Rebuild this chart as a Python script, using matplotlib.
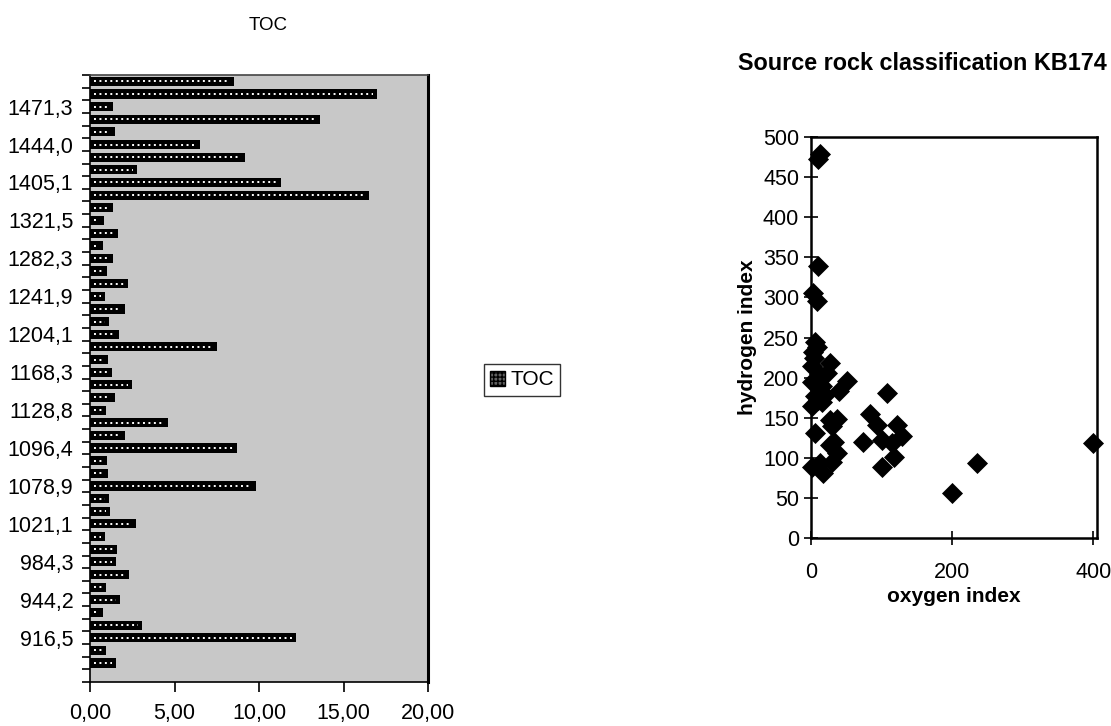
import matplotlib
matplotlib.use("Agg")
import matplotlib.pyplot as plt
import numpy as np
from matplotlib.patches import Patch
from matplotlib.ticker import FixedLocator, NullFormatter

plt.rcParams['font.family'] = ['Liberation Sans', 'DejaVu Sans']

# TOC (wt%) per sample, listed from the shallowest (top bar) to the deepest
toc = [8.5, 17.0, 1.35, 13.6, 1.45, 6.5, 9.2, 2.8, 11.3, 16.5,
       1.35, 0.8, 1.65, 0.75, 1.35, 1.0, 2.25, 0.9, 2.1, 1.15,
       1.7, 7.5, 1.05, 1.3, 2.5, 1.45, 0.95, 4.6, 2.05, 8.7,
       1.0, 1.05, 9.8, 1.15, 1.2, 2.7, 0.9, 1.6, 1.55, 2.3,
       0.95, 1.8, 0.75, 3.1, 12.2, 0.95, 1.55, 0.0]

# depth labels shown on every third category, starting at the third bar
depth_labels = ['1471,3', '1444,0', '1405,1', '1321,5', '1282,3', '1241,9',
                '1204,1', '1168,3', '1128,8', '1096,4', '1078,9', '1021,1',
                '984,3', '944,2', '916,5']
label_start, label_step = 2, 3
toc_ticks = [0, 5, 10, 15, 20]

# Rock-Eval indices for the source rock plot
oxygen_index = [13, 10, 10, 3, 8,
                6, 3, 4, 2, 27, 22, 51, 39, 2, 10, 6, 15, 2, 108,
                27, 37, 6, 84, 93, 122, 74, 100, 115, 129, 117, 100,
                27, 37, 30, 13, 2, 17, 200, 235, 400,
                8, 12, 16, 10, 20, 30, 33]
hydrogen_index = [479, 473, 339, 306, 296,
                  245, 232, 225, 214, 218, 206, 196, 183, 195, 188, 177, 170, 164, 181,
                  147, 148, 131, 154, 141, 141, 120, 122, 119, 127, 101, 89,
                  116, 106, 95, 93, 89, 81, 56, 94, 119,
                  238, 205, 190, 172, 178, 140, 120]

fig = plt.figure(figsize=(11.11, 7.26), dpi=100)

# ---- TOC bar chart ----
ax = fig.add_axes([90 / 1111, 1 - 682 / 726, 338 / 1111, 607 / 726])
ax.set_facecolor('#c8c8c8')
pos = np.arange(len(toc))
ax.barh(pos, toc, height=0.72, color='black', zorder=2)
# row of light dots along each bar
for p, v in zip(pos, toc):
    if v > 0.5:
        ax.hlines(p, 0.25, v - 0.25, colors='white', linestyles=(0, (1, 1.8)),
                  lw=1.4, zorder=3)
ax.set_ylim(len(toc) - 0.5, -0.5)
ax.set_xlim(0, 20)
ax.set_xticks(toc_ticks)
ax.set_xticklabels([f"{t:.2f}".replace('.', ',') for t in toc_ticks], fontsize=15.5)
ax.tick_params(axis='x', direction='out', length=7, width=1.2, pad=8)
ax.yaxis.set_major_locator(FixedLocator(label_start + label_step * np.arange(len(depth_labels))))
ax.set_yticklabels(depth_labels, fontsize=15.5)
ax.yaxis.set_minor_locator(FixedLocator(np.arange(len(toc) + 1) - 0.5))
ax.yaxis.set_minor_formatter(NullFormatter())
ax.tick_params(axis='y', which='major', length=0, pad=12)
ax.tick_params(axis='y', which='minor', direction='out', length=6, width=1.2)
for s in ax.spines.values():
    s.set_color('black')
    s.set_linewidth(1.2)
ax.spines['right'].set_linewidth(2.2)
ax.spines['top'].set_color('#444444')
fig.text(268 / 1111, 1 - 26 / 726, 'TOC', ha='center', va='center', fontsize=13.5)

legend_handle = Patch(facecolor='#606060', edgecolor='black', hatch='++++', label='TOC')
fig.legend(handles=[legend_handle], loc='center', bbox_to_anchor=(522 / 1111, 1 - 380 / 726),
           frameon=True, fancybox=False, edgecolor='black', fontsize=15,
           handlelength=0.75, handleheight=0.75, handletextpad=0.25,
           borderpad=0.3, borderaxespad=0)

# ---- HI vs OI scatter ----
bx = fig.add_axes([811 / 1111, 1 - 538 / 726, 286 / 1111, 401 / 726])
bx.scatter(oxygen_index, hydrogen_index, marker='D', s=115, color='black',
           linewidths=0, clip_on=False, zorder=3)
bx.set_xlim(0, 405)
bx.set_ylim(0, 500)
bx.set_xticks([0, 200, 400])
bx.set_yticks(np.arange(0, 501, 50))
bx.tick_params(axis='both', direction='inout', length=10, width=1.2, labelsize=15.5)
bx.tick_params(axis='x', pad=12)
for s in bx.spines.values():
    s.set_color('black')
    s.set_linewidth(1.8)
bx.set_xlabel('oxygen index', fontsize=15, fontweight='bold', labelpad=3)
bx.set_ylabel('hydrogen index', fontsize=15, fontweight='bold', labelpad=4)
fig.text(922 / 1111, 1 - 64 / 726, 'Source rock classification KB174', ha='center',
         va='center', fontsize=16.8, fontweight='bold')

fig.savefig('out.png', dpi=100)
